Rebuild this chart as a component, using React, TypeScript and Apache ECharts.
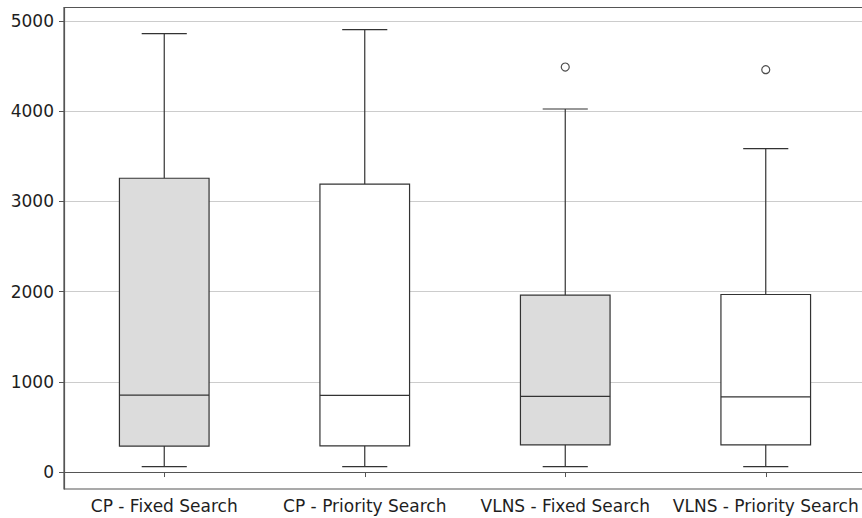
import React, { useEffect, useRef } from "react";
import * as echarts from "echarts";

const categories = ["CP - Fixed Search", "CP - Priority Search", "VLNS - Fixed Search", "VLNS - Priority Search"];
const whiskerLow = [59, 59, 59, 59];
const q1 = [288, 291, 302, 302];
const median = [853, 849, 838, 834];
const q3 = [3257, 3191, 1961, 1968];
const whiskerHigh = [4860, 4904, 4025, 3586];
const boxFills = ["#dcdcdc", "#ffffff", "#dcdcdc", "#ffffff"];
const outliers: [number, number][] = [[2, 4490], [3, 4461]];
const yTicks = [0, 1000, 2000, 3000, 4000, 5000];

export default function App() {
  const ref = useRef<HTMLDivElement>(null);
  useEffect(() => {
    if (!ref.current) return;
    const chart = echarts.init(ref.current, undefined, { renderer: "svg" });
    const boxData = categories.map((_, i) => [i, whiskerLow[i], q1[i], median[i], q3[i], whiskerHigh[i]]);
    const edge = "#333333";
    const lw = 1.2;
    chart.setOption({
      animation: false,
      grid: {
        left: 64,
        top: 7.5,
        bottom: 29,
        right: 10,
        show: true,
        borderColor: "#555555",
        borderWidth: 1.2,
        backgroundColor: "#ffffff",
      },
      xAxis: {
        type: "category",
        data: categories,
        boundaryGap: true,
        axisLine: { show: true, lineStyle: { color: "#555555", width: 1.2 } },
        axisTick: { show: true, alignWithLabel: true, interval: 0, length: 5, lineStyle: { color: "#555555", width: 1 } },
        axisLabel: { color: "#1e1e1e", fontSize: 17, fontFamily: "DejaVu Sans", margin: 8, interval: 0 },
        splitLine: { show: false },
      },
      yAxis: {
        type: "value",
        min: -188,
        max: 5150,
        axisLine: { show: true, lineStyle: { color: "#555555", width: 1.2 } },
        axisTick: { show: true, length: 5, customValues: yTicks, lineStyle: { color: "#555555", width: 1 } },
        axisLabel: {
          color: "#1e1e1e",
          fontSize: 17,
          fontFamily: "DejaVu Sans",
          margin: 10,
          customValues: yTicks,
          formatter: (v: number) => String(v),
        },
        splitLine: { show: true, lineStyle: { color: "#cccccc", width: 1 } },
      },
      series: [
        {
          type: "custom",
          data: boxData,
          encode: { x: 0, y: [1, 2, 3, 4, 5] },
          z: 3,
          renderItem: (params: any, api: any) => {
            const idx = api.value(0);
            const pLow = api.coord([idx, api.value(1)]);
            const pQ1 = api.coord([idx, api.value(2)]);
            const pMed = api.coord([idx, api.value(3)]);
            const pQ3 = api.coord([idx, api.value(4)]);
            const pHigh = api.coord([idx, api.value(5)]);
            const band = api.size([1, 0])[0];
            const bw = band * 0.447;
            const cw = band * 0.225;
            const cx = pQ1[0];
            const st = { stroke: edge, lineWidth: lw, fill: "none" };
            return {
              type: "group",
              children: [
                { type: "line", shape: { x1: cx, y1: pLow[1], x2: cx, y2: pQ1[1] }, style: st },
                { type: "line", shape: { x1: cx, y1: pQ3[1], x2: cx, y2: pHigh[1] }, style: st },
                { type: "line", shape: { x1: cx - cw / 2, y1: pLow[1], x2: cx + cw / 2, y2: pLow[1] }, style: st },
                { type: "line", shape: { x1: cx - cw / 2, y1: pHigh[1], x2: cx + cw / 2, y2: pHigh[1] }, style: st },
                {
                  type: "rect",
                  shape: { x: cx - bw / 2, y: pQ3[1], width: bw, height: pQ1[1] - pQ3[1] },
                  style: { fill: boxFills[params.dataIndex], stroke: edge, lineWidth: lw },
                },
                { type: "line", shape: { x1: cx - bw / 2, y1: pMed[1], x2: cx + bw / 2, y2: pMed[1] }, style: st },
              ],
            };
          },
        },
        {
          type: "scatter",
          data: outliers,
          symbol: "circle",
          symbolSize: 8,
          z: 4,
          itemStyle: { color: "#ffffff", borderColor: "#222222", borderWidth: 1.2 },
        },
      ],
    });
    return () => chart.dispose();
  }, []);
  return (
    <div style={{ position: "absolute", left: 0, top: 0, width: 862, height: 518, overflow: "hidden" }}>
      <div ref={ref} style={{ width: 876, height: 518 }} />
    </div>
  );
}
